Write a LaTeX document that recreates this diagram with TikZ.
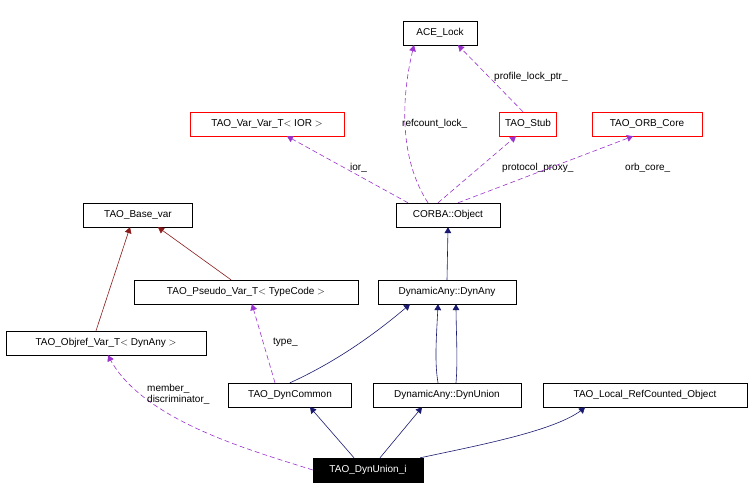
\documentclass[tikz,border=0pt]{standalone}
\usepackage{fontspec}
\setmainfont{Liberation Sans}
\usetikzlibrary{arrows}
\definecolor{inhblue}{HTML}{191970}
\definecolor{usepurple}{HTML}{9A32CD}
\definecolor{tmplred}{HTML}{8B1A1A}
\tikzstyle{cls}=[
	rectangle,
	draw=black,
	fill=white,
	inner sep=0pt,
	minimum height=24pt,
	font=\fontsize{10}{11}\selectfont
]
\tikzstyle{undoc}=[cls, draw=red]
\tikzstyle{inherit}=[->, >=triangle 60, draw=inhblue, semithick]
\tikzstyle{uses}=[->, >=triangle 60, draw=usepurple, semithick, dash pattern=on 5pt off 3pt]
\tikzstyle{tmpl}=[->, >=triangle 60, draw=tmplred, semithick]
\tikzstyle{lbl}=[font=\fontsize{10}{11}\selectfont, text=black, inner sep=1pt]

\begin{document}
\begin{tikzpicture}[x=1pt,y=-1pt]
\useasboundingbox (0,0) rectangle (754,502);
\node [cls, minimum width=74pt] (ACELock) at (440,33) {ACE\_Lock};
\node [undoc, minimum width=154pt] (VarVar) at (267,124) {TAO\_Var\_Var\_T$<$ IOR $>$};
\node [undoc, minimum width=57pt] (Stub) at (528,124) {TAO\_Stub};
\node [undoc, minimum width=110pt] (ORBCore) at (647,124) {TAO\_ORB\_Core};
\node [cls, minimum width=109pt] (BaseVar) at (138,215) {TAO\_Base\_var};
\node [cls, minimum width=104pt] (Object) at (448,215) {CORBA::Object};
\node [cls, minimum width=224pt] (PseudoVar) at (246,292) {TAO\_Pseudo\_Var\_T$<$ TypeCode $>$};
\node [cls, minimum width=138pt] (DynAny) at (447,292) {DynamicAny::DynAny};
\node [cls, minimum width=200pt] (ObjrefVar) at (106,343) {TAO\_Objref\_Var\_T$<$ DynAny $>$};
\node [cls, minimum width=123pt] (DynCommon) at (290,395) {TAO\_DynCommon};
\node [cls, minimum width=148pt] (DynUnion) at (447,395) {DynamicAny::DynUnion};
\node [cls, minimum width=204pt] (LocalRC) at (645,395) {TAO\_Local\_RefCounted\_Object};
\node [cls, fill=black, text=white, minimum width=110pt] (DynUnionI) at (368,470) {TAO\_DynUnion\_i};

% usage relations
\draw [uses] ([xshift=-5pt]Stub.north) -- ([xshift=18pt]ACELock.south);
\node [lbl, anchor=west] (lockptr) at (493,77) {profile\_lock\_ptr\_};
\draw [uses] ([xshift=-20pt]Object.north) .. controls (400,160) and (400,100) .. ([xshift=-26pt]ACELock.south);
\node [lbl, anchor=west] (refcnt) at (401,124) {refcount\_lock\_};
\draw [uses] ([xshift=-40pt]Object.north) -- ([xshift=20pt]VarVar.south);
\node [lbl, anchor=west] (ior) at (349,168) {ior\_};
\draw [uses] ([xshift=-10pt]Object.north) -- ([xshift=-12pt]Stub.south);
\node [lbl, anchor=west] (proxy) at (501,168) {protocol\_proxy\_};
\draw [uses] ([xshift=10pt]Object.north) -- ([xshift=-14pt]ORBCore.south);
\node [lbl, anchor=west] (orbcore) at (624,168) {orb\_core\_};
\draw [uses] ([xshift=-15pt]DynCommon.north) -- ([xshift=6pt]PseudoVar.south);
\node [lbl, anchor=west] (type) at (272,342) {type\_};
\draw [uses] (DynUnionI.west) .. controls (250,450) and (140,420) .. ([xshift=2pt]ObjrefVar.south);
\node [lbl, anchor=west, align=left] (member) at (146,394) {member\_\\discriminator\_};

% template instances
\draw [tmpl] ([xshift=-15pt]PseudoVar.north) -- ([xshift=20pt]BaseVar.south);
\draw [tmpl] ([xshift=-10pt]ObjrefVar.north) -- ([xshift=-8pt]BaseVar.south);

% inheritance
\draw [inherit] (DynAny.north) -- (Object.south);
\draw [inherit] (DynCommon.north) .. controls (340,360) and (380,330) .. ([xshift=-37pt]DynAny.south);
\draw [inherit] ([xshift=-9pt]DynUnion.north) .. controls (434,360) and (437,330) .. ([xshift=-9pt]DynAny.south);
\draw [inherit] ([xshift=9pt]DynUnion.north) .. controls (458,360) and (456,330) .. ([xshift=9pt]DynAny.south);
\draw [inherit] ([xshift=-14pt]DynUnionI.north) -- ([xshift=20pt]DynCommon.south);
\draw [inherit] ([xshift=12pt]DynUnionI.north) -- ([xshift=-25pt]DynUnion.south);
\draw [inherit] ([xshift=-3pt]DynUnionI.north east) .. controls (480,445) and (560,430) .. ([xshift=-60pt]LocalRC.south);
\end{tikzpicture}
\end{document}
